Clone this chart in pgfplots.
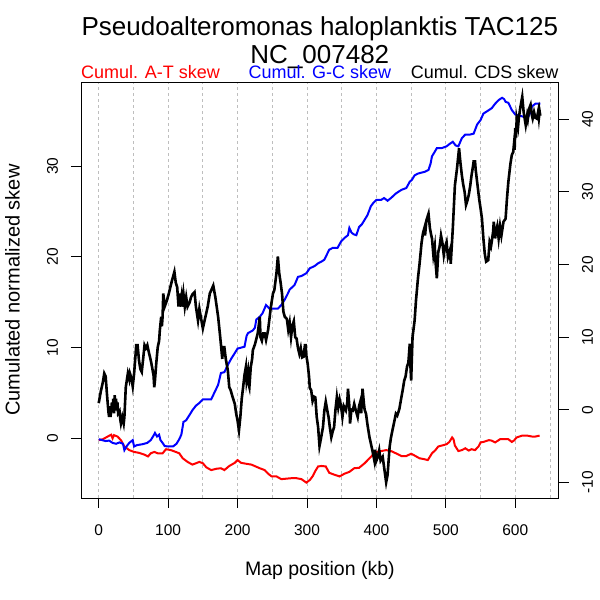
\documentclass[border=0pt]{standalone}
\usepackage{fontspec}
\setmainfont{Liberation Sans}
\usepackage{pgfplots}
\pgfplotsset{compat=1.18}
\definecolor{gridgray}{RGB}{190,190,190}
\definecolor{rred}{RGB}{255,0,0}
\definecolor{rblue}{RGB}{0,0,255}

\pgfplotstableread{
x y
0 -0.1
5 -0.2
10 -0.3
15 -0.25
20 -0.5
25 -0.6
30 -0.45
35 -0.6
37 -1.3
40 -0.9
44 -0.5
49 -0.2
51 -0.9
55 -0.75
63 -0.65
70 -0.5
75 -0.2
79 0.3
81 0.6
84 0.2
87 0.4
89 -0.2
92 -0.5
95 -0.85
100 -0.9
107 -0.9
112 -0.6
116 -0.1
119 0.4
121 1.3
122 1.8
126 2.0
131 2.6
135 3.1
140 3.6
145 3.9
150 4.3
158 4.3
162 4.3
167 5.1
172 5.9
176 7.2
181 7.3
186 8.1
191 8.8
196 9.4
200 9.9
210 10.1
213 11.3
215 11.6
222 11.9
225 12.2
227 13.1
232 13.4
236 13.8
241 14.7
246 14.3
252 14.3
258 14.3
263 14.7
268 15.3
272 15.9
275 16.4
282 16.9
287 17.8
292 17.9
299 18.2
304 18.75
311 19.0
316 19.3
321 19.5
325 19.7
332 20.8
337 21.0
344 21.0
349 21.7
354 22.1
359 22.4
361 23.2
364 22.7
367 22.5
371 22.4
375 23.3
379 23.6
383 24.1
387 24.6
392 25.6
396 26.0
400 26.3
407 26.3
411 26.5
416 26.2
421 26.5
428 27.0
436 27.4
443 27.6
448 28.3
451 28.5
455 29.0
460 29.2
470 29.4
475 29.6
478 30.3
480 31.1
484 31.6
487 32.0
494 32.0
501 32.2
506 32.5
510 32.7
514 32.3
518 32.2
523 33.1
528 33.5
535 33.5
540 33.6
545 34.6
550 35.1
554 35.8
562 36.2
566 36.4
571 36.9
576 37.3
581 37.55
584 37.4
586 37.1
590 37.0
595 36.2
600 35.7
605 35.6
610 35.5
614 35.4
619 35.5
622 36.0
624 36.6
629 36.9
636 36.9
}\gcskew

\pgfplotstableread{
x y
0 -0.2
6 -0.1
13 0.2
18 0.4
20 0.0
22 0.35
27 0.2
32 -0.2
37 -0.9
44 -1.3
51 -1.5
58 -1.6
66 -1.8
71 -2.0
75 -1.65
80 -1.5
85 -1.65
92 -1.65
97 -1.2
104 -1.3
111 -1.5
116 -1.65
121 -2.2
128 -2.6
135 -2.9
140 -2.75
145 -2.6
150 -2.75
155 -3.2
162 -3.5
170 -3.35
176 -3.3
181 -3.5
188 -3.05
196 -2.7
200 -2.4
205 -2.7
212 -2.8
220 -2.9
226 -3.1
232 -3.3
239 -3.5
244 -3.9
249 -4.2
256 -4.2
263 -4.5
270 -4.45
277 -4.4
285 -4.4
292 -4.5
299 -4.88
304 -4.6
308 -4.2
312 -3.6
316 -3.1
321 -3.05
327 -3.1
332 -3.8
339 -4.0
347 -4.2
354 -3.9
361 -3.7
368 -3.3
375 -3.25
383 -2.75
390 -2.2
395 -1.8
400 -1.5
407 -1.4
414 -1.3
421 -1.4
428 -1.65
436 -1.95
443 -1.95
450 -1.7
455 -1.9
462 -2.2
469 -2.3
474 -2.4
478 -1.9
480 -1.65
485 -1.3
489 -0.9
494 -0.8
501 -0.65
505 -0.4
509 0.1
511 -0.1
513 -0.8
518 -1.4
523 -1.3
528 -1.1
533 -1.35
537 -1.2
542 -1.3
547 -0.9
550 -0.45
554 -0.4
562 -0.2
566 -0.25
571 -0.45
578 -0.1
586 -0.1
590 -0.1
595 -0.4
598 -0.25
602 0.1
610 0.3
617 0.3
624 0.2
629 0.2
635 0.3
}\atskew

\pgfplotstableread{
x y
0 0.9
3 2.5
6 3.8
8 5.0
10 4.6
12 2.0
14 -0.3
15 -1.0
16 0.5
17 -1.0
19 1.0
20 0.0
21 1.5
22 -0.5
23 2.0
24 0.2
25 1.5
26 -0.1
27 1.0
28 -0.5
30 -0.2
31 -1.3
32 -1.9
34 -1.0
36 -1.9
37 -1.0
39 3.1
42 5.0
44 4.2
45 5.0
47 4.4
49 3.2
51 5.0
53 7.5
54 8.9
56 8.9
58 6.8
60 5.6
62 5.2
64 7.0
66 8.9
68 8.5
70 8.9
72 8.0
75 6.8
77 5.8
79 4.7
80 3.1
81 4.0
83 6.5
85 8.6
87 9.5
88 10.9
90 12.8
91 11.5
92 12.8
93 16.0
95 14.2
98 15.0
101 16.0
105 17.6
107 18.3
109 19.0
111 17.5
113 16.9
115 14.2
116 16.0
117 14.2
119 15.5
120 14.2
122 16.0
124 14.2
126 15.5
128 14.2
131 14.8
133 15.5
135 15.9
138 16.2
140 14.2
143 12.3
145 13.9
147 12.8
150 11.2
153 12.5
157 14.2
160 16.0
165 17.1
168 15.5
172 12.8
175 10.0
177 8.0
178 7.0
179 8.6
181 8.6
183 7.0
186 5.4
188 3.1
190 2.7
193 1.7
196 0.8
198 -0.55
200 -1.5
202 -2.85
204 -1.0
206 1.5
208 3.1
210 4.8
212 5.9
213 4.0
215 5.2
216 3.5
217 3.1
219 5.9
221 7.0
222 8.2
225 9.0
229 10.5
231 12.0
232 12.8
233 10.0
235 9.5
237 10.5
239 10.5
241 9.6
244 11.0
248 14.2
251 16.0
253 16.5
256 18.8
258 21.1
260 18.8
262 17.5
264 16.0
266 13.5
268 12.8
271 12.5
273 11.0
275 12.0
277 10.0
279 11.6
281 12.2
283 10.0
285 9.8
287 8.5
289 7.7
291 8.5
293 7.2
295 7.3
297 8.9
298 8.9
299 7.5
301 6.3
303 4.5
304 3.0
306 2.7
308 1.2
310 1.8
312 1.7
314 -1.0
316 -2.4
318 -5.0
320 -4.0
323 -2.4
325 -0.1
327 1.1
329 0.0
331 -1.0
333 -2.5
335 -3.8
337 -3.0
339 -2.4
341 0.0
343 1.75
345 0.3
347 1.4
349 0.5
351 -1.0
353 0.5
356 -0.1
358 1.0
359 2.9
361 0.5
362 -1.9
364 0.0
366 -0.1
368 0.8
370 0.0
373 -1.0
375 0.5
377 1.2
378 -0.5
380 2.9
382 0.8
383 0.0
385 -0.55
387 -2.0
390 -3.8
393 -5.1
395 -6.0
397 -7.0
398 -5.5
400 -7.0
402 -6.5
404 -5.6
406 -7.0
409 -6.5
411 -7.9
414 -10.0
416 -9.0
419 -5.1
421 -3.8
424 -2.4
426 -1.5
428 -0.55
430 -0.8
433 0.1
436 1.75
438 2.8
440 4.0
442 4.6
444 5.9
446 6.5
448 9.1
449 6.0
450 4.0
451 7.0
452 10.0
455 12.3
457 15.1
460 18.3
462 20.0
464 22.0
465 23.0
467 24.3
469 25.0
470 24.0
472 26.1
475 27.0
477 25.0
479 24.0
480 23.6
482 21.3
484 22.5
485 20.5
487 18.1
489 21.7
491 22.5
493 24.0
495 23.0
497 21.3
499 22.5
501 23.1
503 21.0
504 21.3
506 22.0
507 20.1
510 25.0
513 30.9
516 33.2
519 36.0
521 34.0
523 32.3
525 31.0
527 30.0
529 28.2
531 28.8
533 29.6
535 30.8
537 32.3
539 33.5
540 34.2
542 34.2
543 33.0
545 31.4
548 29.0
550 27.7
552 26.3
554 23.6
556 21.5
558 20.4
561 20.6
563 23.1
565 22.5
566 23.1
568 24.5
569 25.9
571 23.6
572 24.5
574 25.3
576 23.6
578 25.3
580 24.0
583 25.9
586 26.3
588 29.1
590 31.4
593 33.9
595 35.1
597 35.5
598 36.5
599 35.8
600 38.8
601 37.5
602 40.1
604 39.0
605 40.1
607 41.5
610 43.1
612 41.0
615 39.2
617 40.5
618 40.0
620 41.5
622 42.0
624 40.5
625 40.1
627 41.0
629 40.2
631 40.1
633 41.1
634 40.2
635 41.1
636 40.5
}\cdsskew

\begin{document}
\begin{tikzpicture}
\useasboundingbox (-81bp,-102bp) rectangle (519bp,498bp);
\begin{axis}[
  scale only axis, width=477.7bp, height=415.7bp,
  at={(0,0)}, anchor=south west,
  xmin=-25.5, xmax=662.5, ymin=-6.58, ymax=39.26,
  xtick={0,100,...,600}, minor xtick={50,150,...,650},
  ytick={0,10,20,30},
  xtick pos=left, ytick pos=left,
  tick align=outside, major tick length=10bp, minor tick length=0pt,
  xmajorgrids, xminorgrids,
  major grid style={gridgray, dash pattern=on 3bp off 3bp, line width=0.8bp},
  minor grid style={gridgray, dash pattern=on 3bp off 3bp, line width=0.8bp},
  axis line style={line width=1bp},
  tick style={line width=1bp, black},
  /pgf/number format/assume math mode=true,
  tick label style={font=\fontsize{15.5bp}{18bp}\selectfont},
  xticklabel style={anchor=center, yshift=-22.5bp},
  yticklabel style={anchor=center, xshift=-18.5bp, rotate=90},
]
\addplot[rred, line width=2bp] table {\atskew};
\addplot[rblue, line width=2bp] table {\gcskew};
\end{axis}
\begin{axis}[
  scale only axis, width=477.7bp, height=415.7bp,
  at={(0,0)}, anchor=south west,
  xmin=-25.5, xmax=662.5, ymin=-12.16, ymax=45.1,
  hide x axis, axis y line*=right,
  ytick={-10,0,...,40},
  tick align=outside, major tick length=10bp,
  axis line style={line width=1bp},
  tick style={line width=1bp, black},
  /pgf/number format/assume math mode=true,
  tick label style={font=\fontsize{15.5bp}{18bp}\selectfont},
  yticklabel style={anchor=center, xshift=18.8bp, rotate=90},
]
\addplot[black, line width=2.6bp] table {\cdsskew};
\end{axis}
\node[anchor=base, inner sep=0pt, font=\fontsize{26bp}{30bp}\selectfont] at (238.85bp,462bp) {Pseudoalteromonas haloplanktis TAC125};
\node[anchor=base, inner sep=0pt, font=\fontsize{26bp}{30bp}\selectfont] at (238.85bp,434bp) {NC\_007482};
\node[anchor=base west, inner sep=0pt, text=rred, font=\fontsize{18bp}{21bp}\selectfont] at (0bp,419bp) {Cumul. A-T skew};
\node[anchor=base, inner sep=0pt, text=rblue, font=\fontsize{18bp}{21bp}\selectfont] at (238.85bp,419bp) {Cumul. G-C skew};
\node[anchor=base east, inner sep=0pt, text=black, font=\fontsize{18bp}{21bp}\selectfont] at (477.7bp,419bp) {Cumul. CDS skew};
\node[anchor=base, inner sep=0pt, font=\fontsize{19.5bp}{23bp}\selectfont] at (238.85bp,-77.5bp) {Map position (kb)};
\node[anchor=center, inner sep=0pt, rotate=90, font=\fontsize{20bp}{24bp}\selectfont] at (-68.5bp,208bp) {Cumulated normalized skew};
\end{tikzpicture}
\end{document}
